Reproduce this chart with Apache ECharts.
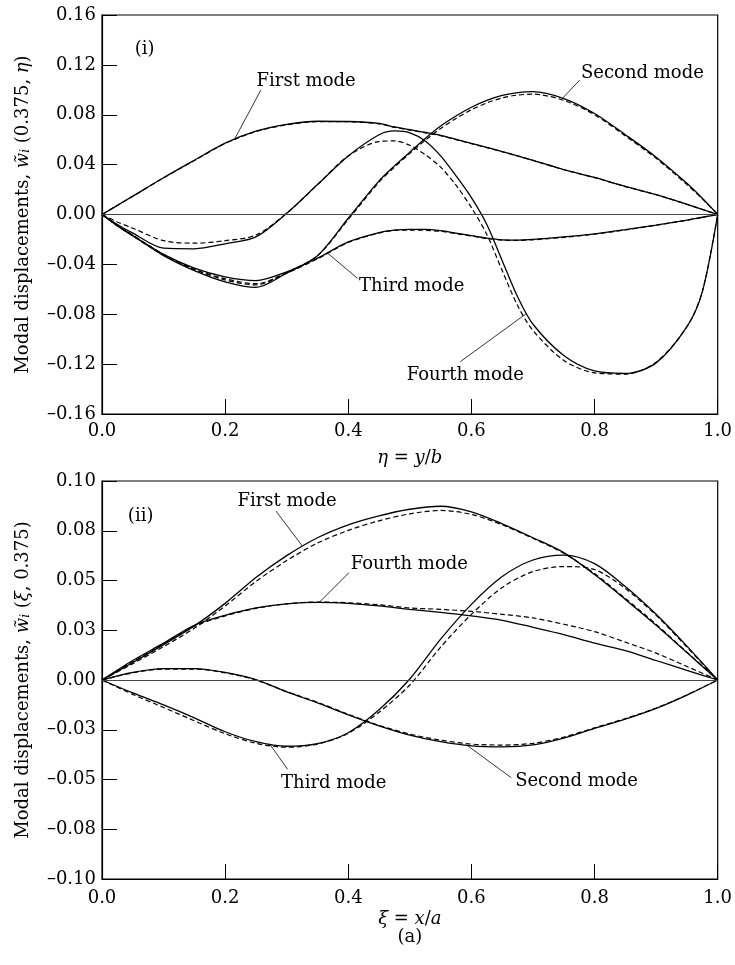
<!DOCTYPE html>
<html>
<head>
<meta charset="utf-8">
<title>Modal displacements</title>
<script src="https://cdn.jsdelivr.net/npm/echarts@6/dist/echarts.min.js"></script>
<style>
    html, body { margin: 0; padding: 0; background: #fff; }
    #chart { width: 735px; height: 965px; }
</style>
</head>
<body>
<div id="chart"></div>
<script>
// (i) w(0.375, eta) -- solid and dashed pairs
const etaTop = [0, 0.025, 0.05, 0.1, 0.15, 0.2, 0.25, 0.3, 0.35, 0.4, 0.45, 0.475, 0.5, 0.525, 0.55, 0.575, 0.6, 0.625, 0.65, 0.675, 0.7, 0.75, 0.8, 0.85, 0.9, 0.95, 0.975, 1]
const firstTop = [0, 0.0073, 0.0147, 0.0295, 0.0435, 0.0572, 0.0668, 0.0722, 0.0748, 0.0746, 0.073, 0.0702, 0.068, 0.0658, 0.0635, 0.0603, 0.057, 0.0538, 0.0505, 0.047, 0.0435, 0.036, 0.0297, 0.0225, 0.016, 0.0082, 0.0041, 0]
const firstTopD = [0, 0.0073, 0.0146, 0.0294, 0.0433, 0.0569, 0.0665, 0.0719, 0.0745, 0.0744, 0.0727, 0.0699, 0.0677, 0.0655, 0.0632, 0.06, 0.0568, 0.0536, 0.0503, 0.0469, 0.0434, 0.0359, 0.0296, 0.0224, 0.0159, 0.0082, 0.0041, 0]
const secondTop = [0, -0.009, -0.017, -0.033, -0.045, -0.054, -0.0585, -0.047, -0.033, -0.003, 0.027, 0.039, 0.05, 0.061, 0.071, 0.079, 0.086, 0.0915, 0.0955, 0.0978, 0.0985, 0.093, 0.081, 0.064, 0.046, 0.025, 0.013, 0]
const secondTopD = [0, -0.0088, -0.0166, -0.032, -0.044, -0.0525, -0.0565, -0.0465, -0.033, -0.004, 0.026, 0.038, 0.049, 0.0595, 0.069, 0.077, 0.084, 0.0895, 0.0935, 0.0958, 0.0965, 0.0915, 0.08, 0.063, 0.045, 0.024, 0.0125, 0]
const thirdTop = [0, -0.009, -0.017, -0.032, -0.043, -0.05, -0.053, -0.046, -0.035, -0.022, -0.0145, -0.0125, -0.012, -0.012, -0.013, -0.015, -0.017, -0.019, -0.0203, -0.0205, -0.02, -0.018, -0.0155, -0.0122, -0.0085, -0.0045, -0.0022, 0]
const thirdTopD = [0, -0.0092, -0.0172, -0.0325, -0.044, -0.0515, -0.0555, -0.047, -0.0355, -0.0225, -0.0148, -0.0128, -0.0125, -0.0127, -0.0135, -0.0153, -0.0172, -0.0192, -0.0205, -0.0207, -0.0203, -0.0183, -0.0157, -0.0124, -0.0086, -0.0046, -0.0023, 0]
const fourthTop = [0, -0.008, -0.015, -0.027, -0.0275, -0.0235, -0.018, 0.001, 0.024, 0.047, 0.064, 0.067, 0.0655, 0.059, 0.047, 0.031, 0.0135, -0.008, -0.037, -0.066, -0.088, -0.113, -0.1255, -0.1275, -0.119, -0.09, -0.062, 0]
const fourthTopD = [0, -0.006, -0.011, -0.021, -0.023, -0.021, -0.0165, 0.001, 0.024, 0.047, 0.0585, 0.059, 0.0555, 0.048, 0.038, 0.0235, 0.0055, -0.016, -0.045, -0.073, -0.093, -0.117, -0.127, -0.128, -0.1185, -0.09, -0.062, 0]

// (ii) w(xi, 0.375)
const xiBot = [0, 0.05, 0.1, 0.15, 0.2, 0.25, 0.3, 0.35, 0.4, 0.45, 0.5, 0.55, 0.6, 0.65, 0.7, 0.75, 0.8, 0.85, 0.9, 0.95, 1]
const firstBot = [0, 0.0088, 0.0178, 0.0272, 0.0385, 0.0515, 0.0625, 0.0715, 0.078, 0.0825, 0.0858, 0.0873, 0.0845, 0.0785, 0.0715, 0.064, 0.053, 0.0405, 0.0275, 0.0138, 0]
const firstBotD = [0, 0.0082, 0.0168, 0.026, 0.0372, 0.0495, 0.06, 0.0688, 0.0752, 0.08, 0.0835, 0.0852, 0.0832, 0.078, 0.0712, 0.0637, 0.0535, 0.041, 0.028, 0.014, 0]
const secondBot = [0, 0.0038, 0.0057, 0.0057, 0.0038, 0.0002, -0.006, -0.0115, -0.0175, -0.023, -0.0277, -0.031, -0.0331, -0.0336, -0.0326, -0.0292, -0.0243, -0.0197, -0.0143, -0.0076, 0]
const secondBotD = [0, 0.0036, 0.0055, 0.0055, 0.0036, 0, -0.0058, -0.0112, -0.0172, -0.0228, -0.0272, -0.0302, -0.0322, -0.0327, -0.0318, -0.0287, -0.024, -0.0194, -0.0141, -0.0075, 0]
const thirdBot = [0, -0.0065, -0.0125, -0.019, -0.026, -0.031, -0.0333, -0.032, -0.0265, -0.015, 0.0005, 0.0205, 0.038, 0.052, 0.0603, 0.0628, 0.0585, 0.047, 0.033, 0.017, 0]
const thirdBotD = [0, -0.0072, -0.0138, -0.0205, -0.027, -0.0318, -0.0338, -0.0322, -0.0268, -0.0162, -0.0025, 0.0165, 0.033, 0.0465, 0.0545, 0.057, 0.0555, 0.046, 0.0325, 0.0165, 0]
const fourthBot = [0, 0.0098, 0.0185, 0.0275, 0.0325, 0.0362, 0.0383, 0.039, 0.0385, 0.0372, 0.0355, 0.034, 0.0322, 0.03, 0.0265, 0.0228, 0.0185, 0.0148, 0.0098, 0.0048, 0]
const fourthBotD = [0, 0.0092, 0.018, 0.027, 0.0322, 0.036, 0.0383, 0.0392, 0.0388, 0.0378, 0.0362, 0.0355, 0.0345, 0.033, 0.0312, 0.028, 0.0243, 0.019, 0.0135, 0.0068, 0]

// tick labels
const xTicks = ['0.0', '0.2', '0.4', '0.6', '0.8', '1.0']
const yTicksTop = ['\u20130.16', '\u20130.12', '\u20130.08', '\u20130.04', '0.00', '0.04', '0.08', '0.12', '0.16']
const yTicksBot = ['\u20130.10', '\u20130.08', '\u20130.05', '\u20130.03', '0.00', '0.03', '0.05', '0.08', '0.10']

const FONT = 'DejaVu Serif'
const FS = 18
const chart = echarts.init(document.getElementById('chart'))

const interp = (xs, ys, x) => {
    for (let i = 1; i < xs.length; i++) {
        if (x <= xs[i]) {
            const t = (x - xs[i - 1]) / (xs[i] - xs[i - 1])
            return ys[i - 1] + t * (ys[i] - ys[i - 1])
        }
    }
    return ys[ys.length - 1]
}

const line = (xs, ys, g, dashed) => ({
    type: 'line',
    xAxisIndex: g,
    yAxisIndex: g,
    data: xs.map((x, i) => [x, ys[i]]),
    showSymbol: false,
    smooth: 0.3,
    silent: true,
    lineStyle: { color: '#000', width: dashed ? 1.2 : 1.3, type: dashed ? [5, 3] : 'solid' },
})

const zeroLine = (g) => ({
    type: 'line',
    xAxisIndex: g,
    yAxisIndex: g,
    data: [],
    markLine: {
        silent: true,
        symbol: 'none',
        label: { show: false },
        lineStyle: { color: '#444', width: 1, type: 'solid' },
        data: [{ yAxis: 0 }],
    },
})

const rich = {
    it: { fontFamily: FONT, fontSize: FS, fontStyle: 'italic', color: '#000' },
    sub: { fontFamily: FONT, fontSize: 12, fontStyle: 'italic', color: '#000', verticalAlign: 'bottom' },
}

const xAxis = (g, name, gap, margin) => ({
    type: 'value',
    gridIndex: g,
    min: 0,
    max: 1,
    interval: 0.2,
    name,
    nameLocation: 'middle',
    nameGap: gap,
    nameTextStyle: { fontFamily: FONT, fontSize: FS, color: '#000', rich },
    axisLine: { onZero: false, lineStyle: { color: '#000', width: 1.2 } },
    axisTick: { inside: true, length: 15, lineStyle: { color: '#000', width: 1 } },
    axisLabel: {
        margin,
        fontFamily: FONT, fontSize: FS, color: '#000',
        formatter: (v) => xTicks[Math.round(v / 0.2)],
    },
    splitLine: { show: false },
})

const yAxis = (g, name, min, step, labels) => ({
    type: 'value',
    gridIndex: g,
    min,
    max: -min,
    interval: step,
    name,
    nameLocation: 'middle',
    nameGap: 70,
    nameTextStyle: { fontFamily: FONT, fontSize: FS, color: '#000', rich },
    axisLine: { lineStyle: { color: '#000', width: 1.2 } },
    axisTick: { inside: true, length: 15, lineStyle: { color: '#000', width: 1 } },
    axisLabel: {
        margin: 6,
        fontFamily: FONT, fontSize: FS, color: '#000',
        formatter: (v) => labels[Math.round((v - min) / step)],
    },
    splitLine: { show: false },
})

const gridStyle = { show: true, borderColor: '#000', borderWidth: 1.2, backgroundColor: 'transparent' }

const option = {
    animation: false,
    backgroundColor: '#fff',
    grid: [
        { left: 102, top: 15, width: 618, height: 399, ...gridStyle },
        { left: 102, top: 481, width: 618, height: 398, ...gridStyle },
    ],
    xAxis: [
        xAxis(0, '{it|η} = {it|y}/{it|b}', 35, 8),
        xAxis(1, '{it|ξ} = {it|x}/{it|a}', 31, 10),
    ],
    yAxis: [
        yAxis(0, 'Modal displacements, {it|w\u0303}{sub|i} (0.375, {it|η})', -0.16, 0.04, yTicksTop),
        yAxis(1, 'Modal displacements, {it|w\u0303}{sub|i} ({it|ξ}, 0.375)', -0.1, 0.025, yTicksBot),
    ],
    series: [
        zeroLine(0),
        line(etaTop, firstTop, 0, false), line(etaTop, firstTopD, 0, true),
        line(etaTop, secondTop, 0, false), line(etaTop, secondTopD, 0, true),
        line(etaTop, thirdTop, 0, false), line(etaTop, thirdTopD, 0, true),
        line(etaTop, fourthTop, 0, false), line(etaTop, fourthTopD, 0, true),
        zeroLine(1),
        line(xiBot, firstBot, 1, false), line(xiBot, firstBotD, 1, true),
        line(xiBot, secondBot, 1, false), line(xiBot, secondBotD, 1, true),
        line(xiBot, thirdBot, 1, false), line(xiBot, thirdBotD, 1, true),
        line(xiBot, fourthBot, 1, false), line(xiBot, fourthBotD, 1, true),
    ],
}
chart.setOption(option)

// labels with leader lines, in data coordinates
const notes = [
    { g: 0, text: 'First mode', on: [0.215, etaTop, firstTop], to: [0.258, 0.0998], at: [0.251, 0.107] },
    { g: 0, text: 'Second mode', on: [0.748, etaTop, secondTop], to: [0.776, 0.1079], at: [0.778, 0.1132] },
    { g: 0, text: 'Third mode', on: [0.366, etaTop, thirdTop], to: [0.415, -0.0512], at: [0.4175, -0.0579] },
    { g: 0, text: 'Fourth mode', on: [0.69, etaTop, fourthTop], to: [0.582, -0.118], at: [0.495, -0.1287] },
    { g: 0, text: '(i)', at: [0.053, 0.1327] },
    { g: 1, text: 'First mode', on: [0.3258, xiBot, firstBot], to: [0.2826, 0.0849], at: [0.22, 0.09] },
    { g: 1, text: 'Fourth mode', on: [0.3528, xiBot, fourthBot], to: [0.401, 0.0539], at: [0.404, 0.0581] },
    { g: 1, text: 'Third mode', on: [0.272, xiBot, thirdBot], to: [0.3015, -0.0449], at: [0.2908, -0.0521] },
    { g: 1, text: 'Second mode', on: [0.5928, xiBot, secondBot], to: [0.6648, -0.0491], at: [0.671, -0.0508] },
    { g: 1, text: '(ii)', at: [0.042, 0.0824] },
]

const graphic = []
notes.forEach((n) => {
    const p = chart.convertToPixel({ gridIndex: n.g }, n.at)
    graphic.push({
        type: 'text', silent: true,
        style: { text: n.text, x: p[0], y: p[1], fill: '#000', font: FS + 'px "' + FONT + '"', align: 'left', verticalAlign: 'middle' },
    })
    if (n.on) {
        const a = chart.convertToPixel({ gridIndex: n.g }, [n.on[0], interp(n.on[1], n.on[2], n.on[0])])
        const b = chart.convertToPixel({ gridIndex: n.g }, n.to)
        graphic.push({
            type: 'line', silent: true,
            shape: { x1: a[0], y1: a[1], x2: b[0], y2: b[1] },
            style: { stroke: '#000', lineWidth: 0.8 },
        })
    }
})
const mid = chart.convertToPixel({ gridIndex: 1 }, [0.5, -0.1])
graphic.push({
    type: 'text', silent: true,
    style: { text: '(a)', x: mid[0], y: 937, fill: '#000', font: FS + 'px "' + FONT + '"', align: 'center', verticalAlign: 'middle' },
})
chart.setOption({ graphic })
</script>
</body>
</html>
